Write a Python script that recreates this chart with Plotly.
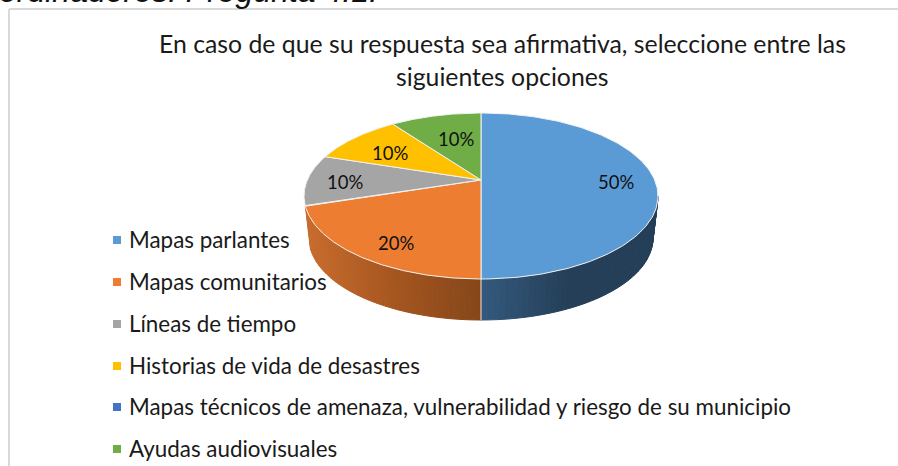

import numpy as np
import plotly.graph_objects as go

categories = ["Mapas parlantes", "Mapas comunitarios", "Líneas de tiempo",
              "Historias de vida de desastres",
              "Mapas técnicos de amenaza, vulnerabilidad y riesgo de su municipio",
              "Ayudas audiovisuales"]
values = [50, 20, 10, 10, 0, 10]
labels = ["50%", "20%", "10%", "10%", "", "10%"]
colors = ["#5B9BD5", "#ED7D31", "#A5A5A5", "#FFC000", "#4472C4", "#70AD47"]
title_lines = ["En caso de que su respuesta sea afirmativa, seleccione entre las", "siguientes opciones"]
clipped_heading = "ordinadores. Pregunta 4.1."

W, H = 898, 466
CX, CY, RX, RY = 481, 196, 177, 83          # top rim ellipse
CY_B, RX_B, RY_B = 238, 172, 82             # bottom rim ellipse
C = -0.193                                  # perspective shift of the pie's centre
FONT = "Lato, Open Sans, sans-serif"
TEXT = "#1A1A1A"

# per-slice wall shading, stops run from the seam outwards
wall_ramp = {0: ("#34597D", "#243F57", "#243F57"), 1: ("#85461A", "#A5561F", "#C86C2E")}
label_r = [0.777, 0.80, 0.78, 0.67, 0, 0.58]
label_dx = [0, 8, -1, -4, 0, 3]
label_dy = [-2, -4, -2, -2, 0, 1]

fig = go.Figure()
total = sum(values)
starts = np.cumsum([0] + values[:-1]) / total * 2*np.pi
ends = np.cumsum(values) / total * 2*np.pi


def disc(t, r=1.0):
    """Perspective map of a point of the flat pie, t clockwise from 12 o'clock."""
    x, y = r*np.sin(t), -r*np.cos(t)
    den = 1 + C*y
    return x*np.sqrt(1 - C*C)/den, (y + C)/den


def top(t, r=1.0):
    X, Y = disc(t, r)
    return CX + RX*X, CY + RY*Y


def bottom(t):
    X, Y = disc(t)
    return CX + RX_B*X, CY_B + RY_B*Y


def hex2rgb(h):
    return np.array([int(h[i:i+2], 16) for i in (1, 3, 5)], float)


def ramp(stops, f):
    p = f*(len(stops) - 1)
    i = min(int(p), len(stops) - 2)
    c = hex2rgb(stops[i]) + (hex2rgb(stops[i+1]) - hex2rgb(stops[i]))*(p - i)
    return "rgb(%d,%d,%d)" % tuple(np.round(c))


# Side wall: the two front slices
t_right = np.arccos(C)                      # rightmost rim point
for idx, stops in wall_ramp.items():
    a, b = max(starts[idx], t_right), ends[idx]
    xl, xr = sorted((top(a)[0], top(b)[0]))
    edges = np.linspace(a, b, 50)
    for t0, t1 in zip(edges[:-1], edges[1:]):
        xm = top((t0 + t1)/2)[0]
        f = (xm - xl)/(xr - xl)
        col = ramp(stops, 1 - f if idx == 1 else f)
        tt = np.linspace(t0, t1, 3)
        xt, yt = top(tt)
        xb, yb = bottom(tt)
        fig.add_trace(go.Scatter(x=list(xt) + list(xb[::-1]) + [xt[0]],
                                 y=list(yt) + list(yb[::-1]) + [yt[0]],
                                 mode="lines", fill="toself", fillcolor=col,
                                 line=dict(color=col, width=1), hoverinfo="skip", showlegend=False))

# Seam between the two front walls
xt, yt = top(ends[0])
xb, yb = bottom(ends[0])
fig.add_trace(go.Scatter(x=[xt, xb], y=[yt, yb], mode="lines", hoverinfo="skip", showlegend=False,
                         line=dict(color="#E8E8E8", width=1)))

# Top faces
ax, ay = CX, CY + RY*C
for v, s, e, c in zip(values, starts, ends, colors):
    if v == 0:
        continue
    tt = np.linspace(s, e, 160)
    x, y = top(tt)
    fig.add_trace(go.Scatter(x=[ax] + list(x) + [ax], y=[ay] + list(y) + [ay], mode="lines",
                             fill="toself", fillcolor=c, line=dict(color="#F2F2F2", width=1),
                             hoverinfo="skip", showlegend=False))

# Percentage labels
for v, s, e, txt, r, dx, dy in zip(values, starts, ends, labels, label_r, label_dx, label_dy):
    if v == 0:
        continue
    lx, ly = top((s + e)/2, r)
    fig.add_annotation(x=lx, y=ly, text=txt, showarrow=False, xref="x", yref="y", xshift=dx, yshift=dy,
                       font=dict(family=FONT, size=18.5, color="#111111"))

# Legend
leg_y = [240, 282, 324, 366, 407, 449]
for name, c, y in zip(categories, colors, leg_y):
    fig.add_trace(go.Scatter(x=[117], y=[y], mode="markers", hoverinfo="skip", showlegend=False,
                             marker=dict(symbol="square", size=8, color=c, line=dict(width=0))))
    fig.add_annotation(x=127, y=y - 1, text=name, showarrow=False, xanchor="left", xref="x", yref="y",
                       font=dict(family=FONT, size=22.4, color=TEXT))

# Title
for line, y in zip(title_lines, [43, 76]):
    fig.add_annotation(x=502, y=y, text=line, showarrow=False, xref="x", yref="y",
                       font=dict(family=FONT, size=24.8, color=TEXT))

# Clipped document heading above the chart frame
fig.add_annotation(x=0, y=11, text="<i>%s</i>" % clipped_heading, showarrow=False, xanchor="left", xshift=-3,
                   yanchor="bottom", xref="x", yref="y",
                   font=dict(family="Liberation Sans, sans-serif", size=32, color="#111111"))

# Chart frame: only the left and top edges fall inside the picture
fig.add_shape(type="rect", x0=0, y0=8, x1=W, y1=H, xref="x", yref="y",
              line=dict(width=0), fillcolor="white", layer="below")
fig.add_shape(type="line", x0=9, y0=9, x1=W, y1=9, xref="x", yref="y",
              line=dict(color="#D9D9D9", width=2), layer="below")
fig.add_shape(type="line", x0=9, y0=9, x1=9, y1=H, xref="x", yref="y",
              line=dict(color="#D9D9D9", width=2), layer="below")

fig.update_layout(width=W, height=H, margin=dict(l=0, r=0, t=0, b=0),
                  paper_bgcolor="white", plot_bgcolor="white", showlegend=False,
                  xaxis=dict(range=[0, W], visible=False, fixedrange=True),
                  yaxis=dict(range=[H, 0], visible=False, fixedrange=True))
fig.write_html("out.html", config=dict(displayModeBar=False),
               post_script="document.body.style.margin='0';document.body.style.overflow='hidden';")
